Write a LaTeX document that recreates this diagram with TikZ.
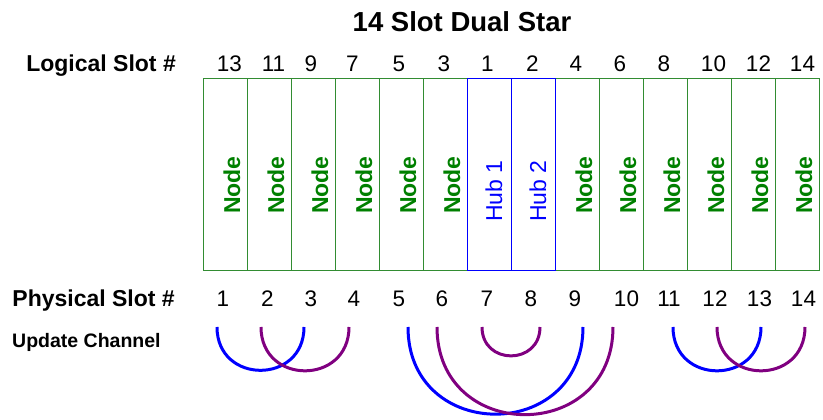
\documentclass[tikz,border=0pt]{standalone}
\usepackage{fontspec}
\setmainfont{Liberation Sans}
\definecolor{ngreen}{RGB}{0,128,0}
\definecolor{bgreen}{RGB}{50,140,50}
\definecolor{hblue}{RGB}{0,0,255}
\definecolor{apurple}{RGB}{128,0,128}
\begin{document}
\begin{tikzpicture}[x=1pt,y=1pt,
  slotbox/.style={draw=bgreen,line width=1pt,minimum width=44pt,minimum height=192pt,inner sep=0pt},
  hubbox/.style={slotbox,draw=hblue},
  nodelbl/.style={rotate=90,anchor=base,inner sep=0pt,text=ngreen,font=\fontsize{23}{23}\selectfont\bfseries},
  hublbl/.style={rotate=90,anchor=base,inner sep=0pt,text=hblue,font=\fontsize{23}{23}\selectfont},
  num/.style={anchor=base,inner sep=0pt,font=\fontsize{22.5}{22.5}\selectfont},
  rowlbl/.style={anchor=base east,inner sep=0pt,font=\fontsize{23}{23}\selectfont\bfseries},
  uarc/.style={line width=3pt,out=-90,in=-90,looseness=1.703},
]
\useasboundingbox (0,0) rectangle (823,420);

\node[anchor=base,inner sep=0pt,font=\fontsize{27.5}{27.5}\selectfont\bfseries] (title) at (462,388) {14 Slot Dual Star};

\node[rowlbl] (loglbl) at (176,348) {Logical Slot \#};
\node[rowlbl] (phylbl) at (175,113.3) {Physical Slot \#};
\node[anchor=base west,inner sep=0pt,font=\fontsize{19.5}{19.5}\selectfont\bfseries] (updlbl) at (12,72) {Update Channel};

% slot boxes
\foreach \i in {1,...,6,9,10,11,12,13,14}{
  \node[slotbox] (c\i) at ({203+44*(\i-0.5)},245) {};
  \node[nodelbl] (t\i) at ({203+44*(\i-0.5)+15},235) {Node};
}
\node[hubbox] (c7) at ({203+44*6.5},245) {};
\node[hubbox] (c8) at ({203+44*7.5},245) {};
\node[hublbl] (t7) at ({203+44*6.5+13},229) {Hub 1};
\node[hublbl] (t8) at ({203+44*7.5+13},229) {Hub 2};

% logical numbers
\foreach \x/\n [count=\k] in {229.5/13,273.5/11,311/9,352.5/7,399/5,444/3,487.5/1,532.5/2,576/4,620/6,664/8,713.5/10,758.5/12,802.5/14}{
  \node[num] (l\k) at (\x,348) {\n};
}
% physical numbers
\foreach \x [count=\k] in {223,267.5,311,354,399,442,487,531,575,626.5,669,715,759.5,803.5}{
  \node[num] (p\k) at (\x,113.3) {\k};
}

% update channel arc ends
\foreach \x [count=\k] in {217,261,304,349,408,437,482,540,583,613,673,717,761,805}{
  \coordinate (u\k) at (\x,93);
}
\draw[uarc,hblue] (u1) to (u3);
\draw[uarc,apurple] (u2) to (u4);
\draw[uarc,hblue] (u5) to (u9);
\draw[uarc,apurple] (u6) to (u10);
\draw[uarc,apurple] (u7) to (u8);
\draw[uarc,hblue] (u11) to (u13);
\draw[uarc,apurple] (u12) to (u14);
\end{tikzpicture}
\end{document}
